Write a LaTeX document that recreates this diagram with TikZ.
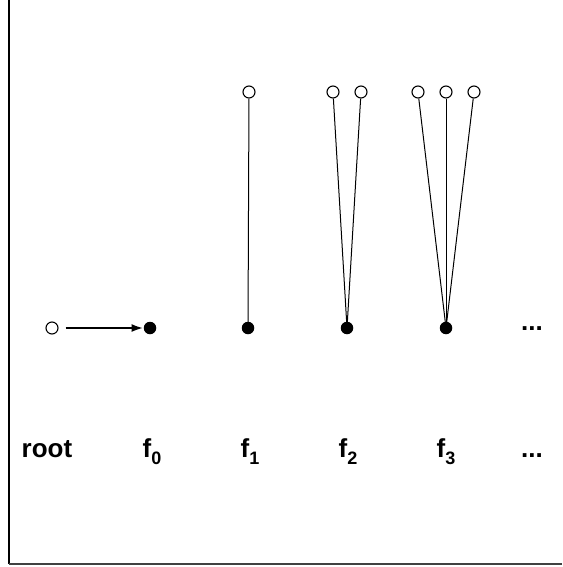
\documentclass[tikz,border=0pt]{standalone}
\usepackage{fontspec}
\setmainfont{Liberation Sans}
\usetikzlibrary{arrows.meta}

\newcommand{\lowidx}[1]{\raisebox{-0.28em}{\fontsize{18}{20}\selectfont #1}}

\tikzset{
	leaf/.style={circle, draw, line width=1.1pt, inner sep=0pt, minimum size=12pt},
	knot/.style={circle, fill, inner sep=0pt, minimum size=12.5pt},
	lbl/.style={anchor=base, font=\fontsize{26}{30}\selectfont\bfseries},
	stem/.style={line width=1pt},
}

\begin{document}
\begin{tikzpicture}[x=1pt,y=-1pt]
\useasboundingbox (0,0) rectangle (562,567);

\draw[line width=1.2pt] (9,0) -- (9,564);
\draw[line width=1.2pt, black!75] (9,564) -- (562,564);

\node[leaf] (root) at (52,328) {};
\node[knot] (f0) at (150,328) {};
\draw[line width=1.1pt][-{Latex[length=11pt,width=8pt]}, shorten <=7pt, shorten >=1pt] (root) -- (f0);

\foreach \n/\x in {1/248,2/347,3/446} {
	\node[knot] (f\n) at (\x,328) {};
}

\foreach \x [count=\i] in {249} {
	\node[leaf] (t1\i) at (\x,92) {};
	\draw[stem] (t1\i) -- (f1.center);
}
\foreach \x [count=\i] in {333,361} {
	\node[leaf] (t2\i) at (\x,92) {};
	\draw[stem] (t2\i) -- (f2.center);
}
\foreach \x [count=\i] in {418,446,474} {
	\node[leaf] (t3\i) at (\x,92) {};
	\draw[stem] (t3\i) -- (f3.center);
}

\node[lbl] (more) at (532,330) {...};

\node[lbl] (lroot) at (47,457) {root};
\foreach \n/\x in {0/152,1/250,2/348,3/446} {
	\node[lbl] (lf\n) at (\x,457) {f\lowidx{\n}};
}
\node[lbl] (lmore) at (532,457) {...};
\end{tikzpicture}
\end{document}
